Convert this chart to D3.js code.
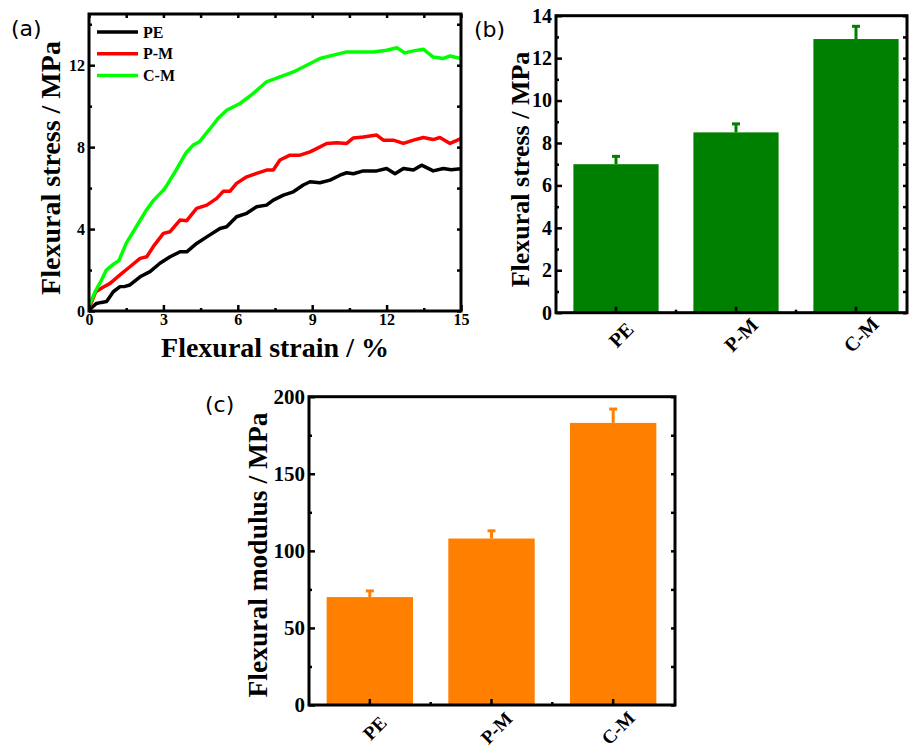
<!DOCTYPE html>
<html>
<head>
<meta charset="utf-8">
<script src="https://cdn.jsdelivr.net/npm/d3@7"></script>
<style>
  body { margin: 0; background: #fff; }
  text { font-family: "Liberation Serif", "Times New Roman", serif; font-weight: bold; fill: #000; }
  .plabel { font-family: "DejaVu Sans", sans-serif; font-weight: normal; }
</style>
</head>
<body>
<svg id="fig" width="909" height="748"></svg>
<script>
// stress-strain curves, [strain %, stress MPa]
var pePoints = [[0,0.05],[0.3,0.37],[0.5,0.42],[0.71,0.46],[0.98,0.94],[1.25,1.19],[1.45,1.2],[1.65,1.27],[2.06,1.67],[2.46,1.92],[2.86,2.33],[3.27,2.65],[3.67,2.89],[3.94,2.89],[4.34,3.3],[4.75,3.62],[5.28,4.03],[5.55,4.11],[5.95,4.6],[6.36,4.77],[6.76,5.09],[7.16,5.17],[7.43,5.41],[7.84,5.66],[8.24,5.82],[8.64,6.15],[8.91,6.31],[9.31,6.26],[9.72,6.39],[10.12,6.63],[10.39,6.75],[10.66,6.7],[11.06,6.84],[11.6,6.84],[12.0,6.96],[12.34,6.7],[12.68,6.96],[13.08,6.88],[13.41,7.12],[13.88,6.84],[14.29,6.96],[14.6,6.9],[15,6.95]];
var pmPoints = [[0,0.13],[0.27,0.94],[0.55,1.15],[0.85,1.35],[1.25,1.76],[1.65,2.16],[2.06,2.57],[2.33,2.65],[2.59,3.14],[3.0,3.79],[3.27,3.87],[3.67,4.44],[3.94,4.41],[4.34,5.01],[4.75,5.17],[5.15,5.5],[5.42,5.85],[5.69,5.85],[5.95,6.23],[6.36,6.55],[6.76,6.72],[7.16,6.88],[7.43,6.88],[7.7,7.37],[8.1,7.61],[8.51,7.61],[8.91,7.77],[9.18,7.93],[9.58,8.18],[9.99,8.21],[10.39,8.18],[10.66,8.45],[11.06,8.5],[11.6,8.59],[11.87,8.34],[12.27,8.34],[12.68,8.18],[13.08,8.34],[13.48,8.47],[13.88,8.37],[14.15,8.47],[14.56,8.18],[15,8.42]];
var cmPoints = [[0,0.25],[0.27,1.0],[0.5,1.5],[0.7,2.0],[1.0,2.3],[1.2,2.45],[1.5,3.3],[1.9,4.1],[2.3,4.9],[2.6,5.4],[3.0,5.9],[3.1,6.06],[3.5,6.85],[3.9,7.7],[4.2,8.1],[4.45,8.26],[4.85,8.85],[5.2,9.4],[5.55,9.8],[6.09,10.13],[6.6,10.6],[7.16,11.19],[7.7,11.43],[8.24,11.67],[8.78,12.0],[9.31,12.33],[9.85,12.49],[10.39,12.65],[10.93,12.65],[11.46,12.65],[12.0,12.73],[12.41,12.85],[12.74,12.6],[13.08,12.7],[13.48,12.78],[13.88,12.4],[14.29,12.33],[14.56,12.45],[15,12.33]];

var seriesNames = ["PE", "P-M", "C-M"];
var seriesColors = ["#000000", "#ff0000", "#00ff00"];

var strainTicks = [0, 3, 6, 9, 12, 15];
var strainMinor = [1.5, 4.5, 7.5, 10.5, 13.5];
var stressTicksA = [0, 4, 8, 12];
var stressMinorA = [2, 6, 10, 14];

// bar data
var categories = ["PE", "P-M", "C-M"];
var stressMean = [7.0, 8.5, 12.9];
var stressErr = [0.37, 0.4, 0.6];
var modulusMean = [70, 108, 183];
var modulusErr = [4, 5, 9];

var stressTicksB = [0, 2, 4, 6, 8, 10, 12, 14];
var stressMinorB = [1, 3, 5, 7, 9, 11, 13];
var modulusTicks = [0, 50, 100, 150, 200];
var modulusMinor = [25, 75, 125, 175];

var svg = d3.select("#fig");
var serif = '"Liberation Serif", "Times New Roman", serif';

function styleAxis(g, size) {
    g.select(".domain").remove();
    g.attr("font-family", null).attr("font-size", null);
    g.selectAll("line").attr("stroke", "#000").attr("stroke-width", 2.5);
    g.selectAll("text")
        .style("font-family", serif)
        .style("font-weight", "bold")
        .style("font-size", size + "px");
}

// ---------- panel (a) ----------
var ax = {left: 89, right: 461, top: 14, bottom: 311};
var xA = d3.scaleLinear().domain([0, 15]).range([ax.left, ax.right]);
var yA = d3.scaleLinear().domain([0, 14.5]).range([ax.bottom, ax.top]);
var gA = svg.append("g");

gA.append("clipPath").attr("id", "clipA").append("rect")
    .attr("x", ax.left).attr("y", ax.top)
    .attr("width", ax.right - ax.left).attr("height", ax.bottom - ax.top);

var line = d3.line().x(d => xA(d[0])).y(d => yA(d[1]));
var curves = [pePoints, pmPoints, cmPoints];
gA.append("g").attr("clip-path", "url(#clipA)")
    .selectAll("path").data(curves).join("path")
    .attr("d", line)
    .attr("fill", "none")
    .attr("stroke", (d, i) => seriesColors[i])
    .attr("stroke-width", 3.5)
    .attr("stroke-linejoin", "round");

gA.append("g").attr("transform", "translate(0," + ax.bottom + ")")
    .call(d3.axisBottom(xA).tickValues(strainTicks).tickSize(-6).tickPadding(3))
    .call(g => styleAxis(g, 16));
gA.append("g").attr("transform", "translate(0," + ax.bottom + ")")
    .call(d3.axisBottom(xA).tickValues(strainMinor).tickSize(-3).tickFormat(""))
    .call(g => styleAxis(g, 16));
gA.append("g").attr("transform", "translate(0," + ax.top + ")")
    .call(d3.axisTop(xA).tickValues(strainTicks.concat(strainMinor)).tickSize(-4).tickFormat(""))
    .call(g => styleAxis(g, 16));
gA.append("g").attr("transform", "translate(" + ax.left + ",0)")
    .call(d3.axisLeft(yA).tickValues(stressTicksA).tickSize(-6).tickPadding(4))
    .call(g => styleAxis(g, 16));
gA.append("g").attr("transform", "translate(" + ax.left + ",0)")
    .call(d3.axisLeft(yA).tickValues(stressMinorA).tickSize(-3).tickFormat(""))
    .call(g => styleAxis(g, 16));
gA.append("g").attr("transform", "translate(" + ax.right + ",0)")
    .call(d3.axisRight(yA).tickValues(stressTicksA.concat(stressMinorA)).tickSize(-4).tickFormat(""))
    .call(g => styleAxis(g, 16));

gA.append("rect")
    .attr("x", ax.left).attr("y", ax.top)
    .attr("width", ax.right - ax.left).attr("height", ax.bottom - ax.top)
    .attr("fill", "none").attr("stroke", "#000").attr("stroke-width", 3);

// legend
var legend = gA.append("g").selectAll("g").data(seriesNames).join("g")
    .attr("transform", (d, i) => "translate(97," + (32 + i * 21.7) + ")");
legend.append("line").attr("x1", 0).attr("x2", 41)
    .attr("stroke", (d, i) => seriesColors[i]).attr("stroke-width", 3.5);
legend.append("text").attr("x", 46).attr("y", 5.5)
    .style("font-size", "16px").text(d => d);

gA.append("text").attr("x", 275).attr("y", 357)
    .attr("text-anchor", "middle").style("font-size", "28px")
    .text("Flexural strain / %");
gA.append("text").attr("transform", "translate(60,168) rotate(-90)")
    .attr("text-anchor", "middle").style("font-size", "28px")
    .text("Flexural stress / MPa");
gA.append("text").attr("class", "plabel").attr("x", 11).attr("y", 36)
    .style("font-size", "22px").text("(a)");

// ---------- bar panels ----------
function barPanel(o) {
    var g = svg.append("g");
    var x = d3.scaleBand().domain(categories)
        .range([o.left, o.left + o.span])
        .paddingInner(0.29).paddingOuter(0.145);
    var y = d3.scaleLinear().domain(o.domain).range([o.bottom, o.top]);
    var bw = x.bandwidth();

    g.selectAll("rect.bar").data(o.values).join("rect")
        .attr("class", "bar")
        .attr("x", (d, i) => x(categories[i]))
        .attr("width", bw)
        .attr("y", d => y(d))
        .attr("height", d => y(0) - y(d))
        .attr("fill", o.color);

    // error bars, upper half only
    var eb = g.selectAll("g.err").data(o.values).join("g").attr("class", "err");
    eb.append("line")
        .attr("x1", (d, i) => x(categories[i]) + bw / 2)
        .attr("x2", (d, i) => x(categories[i]) + bw / 2)
        .attr("y1", d => y(d))
        .attr("y2", (d, i) => y(d + o.errs[i]))
        .attr("stroke", o.color).attr("stroke-width", 3);
    eb.append("line")
        .attr("x1", (d, i) => x(categories[i]) + bw / 2 - 4)
        .attr("x2", (d, i) => x(categories[i]) + bw / 2 + 4)
        .attr("y1", (d, i) => y(d + o.errs[i]))
        .attr("y2", (d, i) => y(d + o.errs[i]))
        .attr("stroke", o.color).attr("stroke-width", 3);

    g.append("g").attr("transform", "translate(" + o.left + ",0)")
        .call(d3.axisLeft(y).tickValues(o.ticks).tickSize(-6).tickPadding(4))
        .call(s => styleAxis(s, o.tickFont));
    g.append("g").attr("transform", "translate(" + o.left + ",0)")
        .call(d3.axisLeft(y).tickValues(o.minor).tickSize(-3).tickFormat(""))
        .call(s => styleAxis(s, o.tickFont));
    g.append("g").attr("transform", "translate(" + o.right + ",0)")
        .call(d3.axisRight(y).tickValues(o.ticks.concat(o.minor)).tickSize(-4).tickFormat(""))
        .call(s => styleAxis(s, o.tickFont));

    // category ticks at band centres, minor ticks between bands
    var centers = categories.map(c => x(c) + bw / 2);
    var mids = [centers[0] + x.step() / 2, centers[1] + x.step() / 2];
    g.append("g").selectAll("line").data(centers).join("line")
        .attr("x1", d => d).attr("x2", d => d)
        .attr("y1", o.bottom).attr("y2", o.bottom - 6)
        .attr("stroke", "#000").attr("stroke-width", 2.5);
    g.append("g").selectAll("line").data(mids).join("line")
        .attr("x1", d => d).attr("x2", d => d)
        .attr("y1", o.bottom).attr("y2", o.bottom - 3)
        .attr("stroke", "#000").attr("stroke-width", 2.5);

    g.append("g").selectAll("text").data(categories).join("text")
        .attr("transform", (d, i) => "translate(" + (centers[i] + 5) + "," + (o.bottom + o.labOff) + ") rotate(-45)")
        .attr("text-anchor", "middle")
        .attr("dominant-baseline", "central")
        .style("font-size", o.catFont + "px")
        .text(d => d);

    g.append("rect")
        .attr("x", o.left).attr("y", o.top)
        .attr("width", o.right - o.left).attr("height", o.bottom - o.top)
        .attr("fill", "none").attr("stroke", "#000").attr("stroke-width", 3);

    g.append("text").attr("transform", "translate(" + o.titleX + "," + o.titleY + ") rotate(-90)")
        .attr("text-anchor", "middle").style("font-size", o.titleFont + "px")
        .text(o.title);
    g.append("text").attr("class", "plabel").attr("x", o.labX).attr("y", o.labY)
        .style("font-size", "22px").text(o.label);
}

barPanel({
    left: 556, span: 360, right: 907, top: 15.7, bottom: 312.7,
    domain: [0, 14], ticks: stressTicksB, minor: stressMinorB,
    values: stressMean, errs: stressErr, color: "#008000",
    tickFont: 20, catFont: 20, labOff: 22,
    title: "Flexural stress / MPa", titleX: 529, titleY: 169.5, titleFont: 26,
    label: "(b)", labX: 474, labY: 37
});

barPanel({
    left: 309, span: 365, right: 675, top: 396.7, bottom: 705,
    domain: [0, 200], ticks: modulusTicks, minor: modulusMinor,
    values: modulusMean, errs: modulusErr, color: "#ff8000",
    tickFont: 21, catFont: 19, labOff: 23,
    title: "Flexural modulus / MPa", titleX: 267, titleY: 555, titleFont: 27.5,
    label: "(c)", labX: 205, labY: 412
});
</script>
</body>
</html>
